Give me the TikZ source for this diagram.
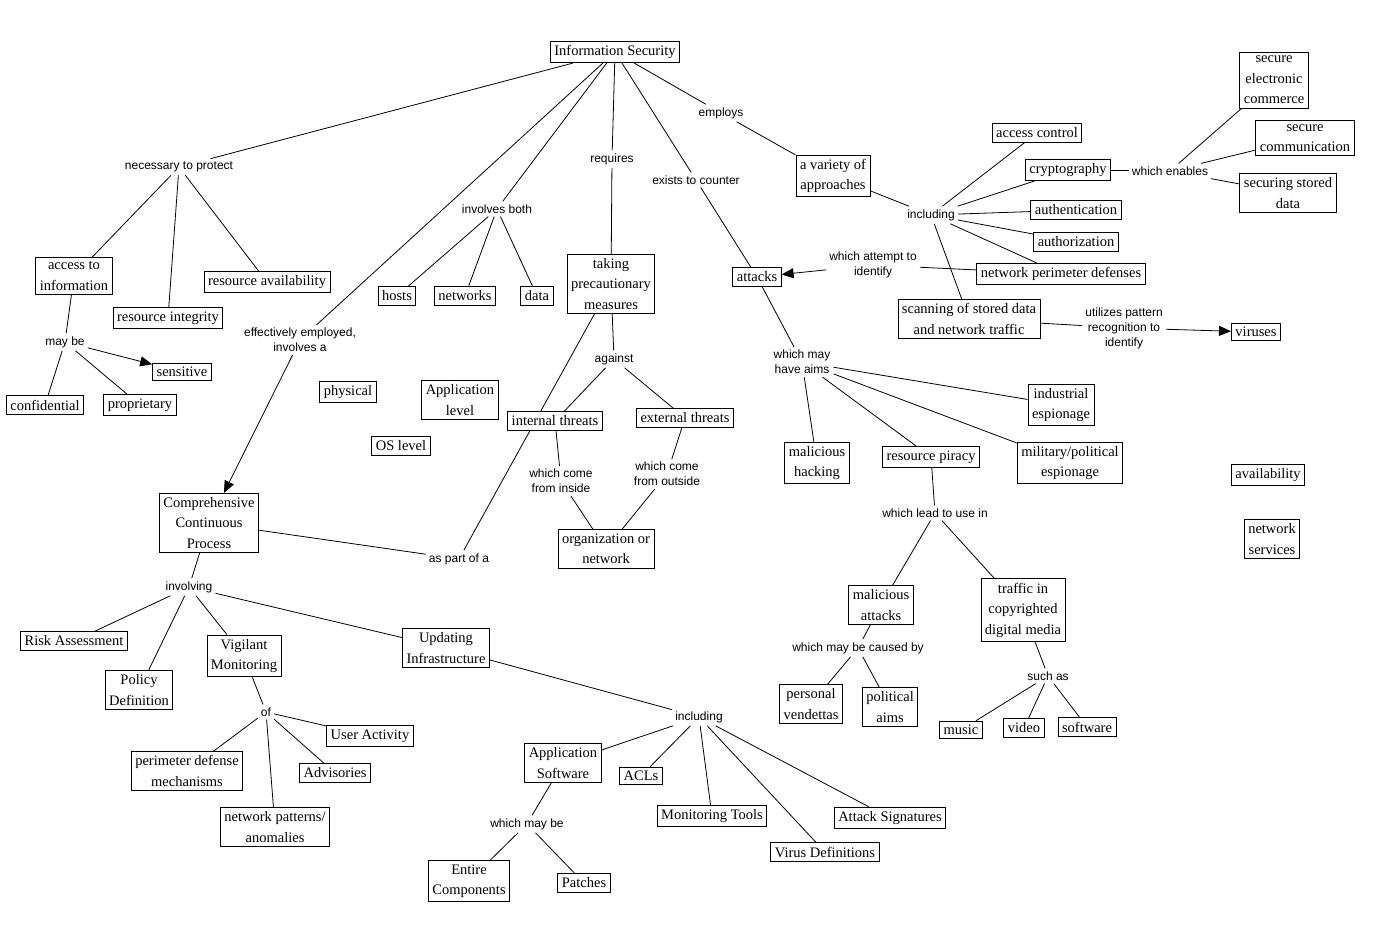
\documentclass[tikz,border=0pt]{standalone}
\usepackage{fontspec}
\setmainfont{Liberation Serif}
\setsansfont{Liberation Sans}
\usetikzlibrary{arrows.meta,backgrounds}
\begin{document}
\begin{tikzpicture}[x=1pt,y=-1pt,
  cbox/.style={draw,line width=0.9pt,fill=white,align=center,inner xsep=4pt,inner ysep=4pt,
    font=\rmfamily\fontsize{14.5}{20.5}\selectfont},
  clab/.style={align=center,inner sep=3pt,font=\sffamily\fontsize{12}{15}\selectfont},
  conn/.style={line width=0.8pt},
  carr/.style={line width=0.8pt,-{Triangle[length=12pt,width=10pt]}}]
\useasboundingbox (0,0) rectangle (1399,944);
% nodes
\node[cbox] (is) at (615,52) {Information Security};
\node[clab] (nec) at (179,167) {necessary to protect};
\node[cbox] (acc) at (74,276) {access to\\information};
\node[cbox] (rint) at (168,318) {resource integrity};
\node[cbox] (ravail) at (267,282) {resource availability};
\node[clab] (maybe) at (65,342) {may be};
\node[cbox] (sens) at (182,372) {sensitive};
\node[cbox] (conf) at (45,405) {confidential};
\node[cbox] (prop) at (140,405) {proprietary};
\node[clab] (eff) at (300,340) {effectively employed,\\involves a};
\node[clab] (invb) at (497,209) {involves both};
\node[cbox] (hosts) at (397,296) {hosts};
\node[cbox] (netw) at (465,296) {networks};
\node[cbox] (data) at (537,296) {data};
\node[clab] (req) at (612,159) {requires};
\node[cbox] (take) at (611,284) {taking\\precautionary\\measures};
\node[clab] (exist) at (696,180) {exists to counter};
\node[clab] (empl) at (721,113) {employs};
\node[cbox] (var) at (833,176) {a variety of\\approaches};
\node[clab] (incl) at (931,215) {including};
\node[cbox] (accc) at (1037,133) {access control};
\node[cbox] (crypt) at (1068,170) {cryptography};
\node[cbox] (authn) at (1076,210) {authentication};
\node[cbox] (authz) at (1076,242) {authorization};
\node[cbox] (npd) at (1061,274) {network perimeter defenses};
\node[cbox] (scan) at (969,319) {scanning of stored data\\and network traffic};
\node[clab] (utl) at (1124,328) {utilizes pattern\\recognition to\\identify};
\node[cbox] (vir) at (1256,332) {viruses};
\node[clab] (enab) at (1170,171) {which enables};
\node[cbox] (sec) at (1274,80) {secure\\electronic\\commerce};
\node[cbox] (scom) at (1305,138) {secure\\communication};
\node[cbox] (ssd) at (1288,193) {securing stored\\data};
\node[clab] (att) at (873,265) {which attempt to\\identify};
\node[cbox] (attacks) at (757,277) {attacks};
\node[clab] (aims) at (802,362) {which may\\have aims};
\node[cbox] (ind) at (1061,405) {industrial\\espionage};
\node[cbox] (mil) at (1070,463) {military/political\\espionage};
\node[cbox] (mhack) at (817,463) {malicious\\hacking};
\node[cbox] (rpir) at (931,457) {resource piracy};
\node[clab] (lead) at (935,513) {which lead to use in};
\node[cbox] (matt) at (881,605) {malicious\\attacks};
\node[cbox] (traf) at (1023,610) {traffic in\\copyrighted\\digital media};
\node[clab] (caus) at (858,648) {which may be caused by};
\node[cbox] (pv) at (811,704) {personal\\vendettas};
\node[cbox] (pa) at (890,707) {political\\aims};
\node[clab] (such) at (1048,676) {such as};
\node[cbox] (music) at (961,730) {music};
\node[cbox] (video) at (1024,728) {video};
\node[cbox] (soft) at (1087,727) {software};
\node[cbox] (avail) at (1268,475) {availability};
\node[cbox] (nsvc) at (1272,539) {network\\services};
\node[cbox] (phys) at (348,392) {physical};
\node[cbox] (applv) at (460,400) {Application\\level};
\node[cbox] (os) at (401,446) {OS level};
\node[clab] (agst) at (614,359) {against};
\node[cbox] (intt) at (555,421) {internal threats};
\node[cbox] (extt) at (685,418) {external threats};
\node[clab] (inside) at (561,481) {which come\\from inside};
\node[clab] (outside) at (667,474) {which come\\from outside};
\node[cbox] (org) at (606,549) {organization or\\network};
\node[clab] (part) at (459,559) {as part of a};
\node[cbox] (ccp) at (209,523) {Comprehensive\\Continuous\\Process};
\node[clab] (invl) at (189,587) {involving};
\node[cbox] (risk) at (74,641) {Risk Assessment};
\node[cbox] (pol) at (139,690) {Policy\\Definition};
\node[cbox] (vig) at (244,656) {Vigilant\\Monitoring};
\node[cbox] (upd) at (446,648) {Updating\\Infrastructure};
\node[clab] (of) at (266,712) {of};
\node[cbox] (ua) at (370,736) {User Activity};
\node[cbox] (adv) at (335,773) {Advisories};
\node[cbox] (pdm) at (187,771) {perimeter defense\\mechanisms};
\node[cbox] (npa) at (275,827) {network patterns/\\anomalies};
\node[clab] (incl2) at (699,717) {including};
\node[cbox] (apps) at (563,763) {Application\\Software};
\node[cbox] (acl) at (641,776) {ACLs};
\node[cbox] (mon) at (712,816) {Monitoring Tools};
\node[cbox] (vdef) at (825,852) {Virus Definitions};
\node[cbox] (asig) at (890,818) {Attack Signatures};
\node[clab] (wmb) at (527,824) {which may be};
\node[cbox] (ent) at (469,881) {Entire\\Components};
\node[cbox] (pat) at (584,883) {Patches};
% connectors
\begin{scope}[on background layer]
\draw[conn] (is) -- (nec);
\draw[conn] (nec) -- (acc);
\draw[conn] (nec) -- (rint);
\draw[conn] (nec) -- (ravail);
\draw[conn] (acc) -- (maybe);
\draw[carr] (maybe) -- (sens);
\draw[conn] (maybe) -- (conf);
\draw[conn] (maybe) -- (prop);
\draw[conn] (is) -- (eff);
\draw[carr] (eff) -- (ccp);
\draw[conn] (is) -- (invb);
\draw[conn] (invb) -- (hosts);
\draw[conn] (invb) -- (netw);
\draw[conn] (invb) -- (data);
\draw[conn] (is) -- (req);
\draw[conn] (req) -- (take);
\draw[conn] (is) -- (exist);
\draw[conn] (exist) -- (attacks);
\draw[conn] (is) -- (empl);
\draw[conn] (empl) -- (var);
\draw[conn] (var) -- (incl);
\draw[conn] (incl) -- (accc);
\draw[conn] (incl) -- (crypt);
\draw[conn] (incl) -- (authn);
\draw[conn] (incl) -- (authz);
\draw[conn] (incl) -- (npd);
\draw[conn] (incl) -- (scan);
\draw[conn] (npd) -- (att);
\draw[carr] (att) -- (attacks);
\draw[conn] (crypt) -- (enab);
\draw[conn] (enab) -- (sec);
\draw[conn] (enab) -- (scom);
\draw[conn] (enab) -- (ssd);
\draw[conn] (scan) -- (utl);
\draw[carr] (utl) -- (vir);
\draw[conn] (take) -- (agst);
\draw[conn] (agst) -- (intt);
\draw[conn] (agst) -- (extt);
\draw[conn] (intt) -- (inside);
\draw[conn] (inside) -- (org);
\draw[conn] (extt) -- (outside);
\draw[conn] (outside) -- (org);
\draw[conn] (ccp) -- (part);
\draw[conn] (part) -- (take);
\draw[conn] (attacks) -- (aims);
\draw[conn] (aims) -- (mhack);
\draw[conn] (aims) -- (rpir);
\draw[conn] (aims) -- (mil);
\draw[conn] (aims) -- (ind);
\draw[conn] (rpir) -- (lead);
\draw[conn] (lead) -- (matt);
\draw[conn] (lead) -- (traf);
\draw[conn] (matt) -- (caus);
\draw[conn] (caus) -- (pv);
\draw[conn] (caus) -- (pa);
\draw[conn] (traf) -- (such);
\draw[conn] (such) -- (music);
\draw[conn] (such) -- (video);
\draw[conn] (such) -- (soft);
\draw[conn] (ccp) -- (invl);
\draw[conn] (invl) -- (risk);
\draw[conn] (invl) -- (pol);
\draw[conn] (invl) -- (vig);
\draw[conn] (invl) -- (upd);
\draw[conn] (vig) -- (of);
\draw[conn] (of) -- (ua);
\draw[conn] (of) -- (adv);
\draw[conn] (of) -- (pdm);
\draw[conn] (of) -- (npa);
\draw[conn] (upd) -- (incl2);
\draw[conn] (incl2) -- (apps);
\draw[conn] (incl2) -- (acl);
\draw[conn] (incl2) -- (mon);
\draw[conn] (incl2) -- (vdef);
\draw[conn] (incl2) -- (asig);
\draw[conn] (apps) -- (wmb);
\draw[conn] (wmb) -- (ent);
\draw[conn] (wmb) -- (pat);
\end{scope}
\end{tikzpicture}
\end{document}
